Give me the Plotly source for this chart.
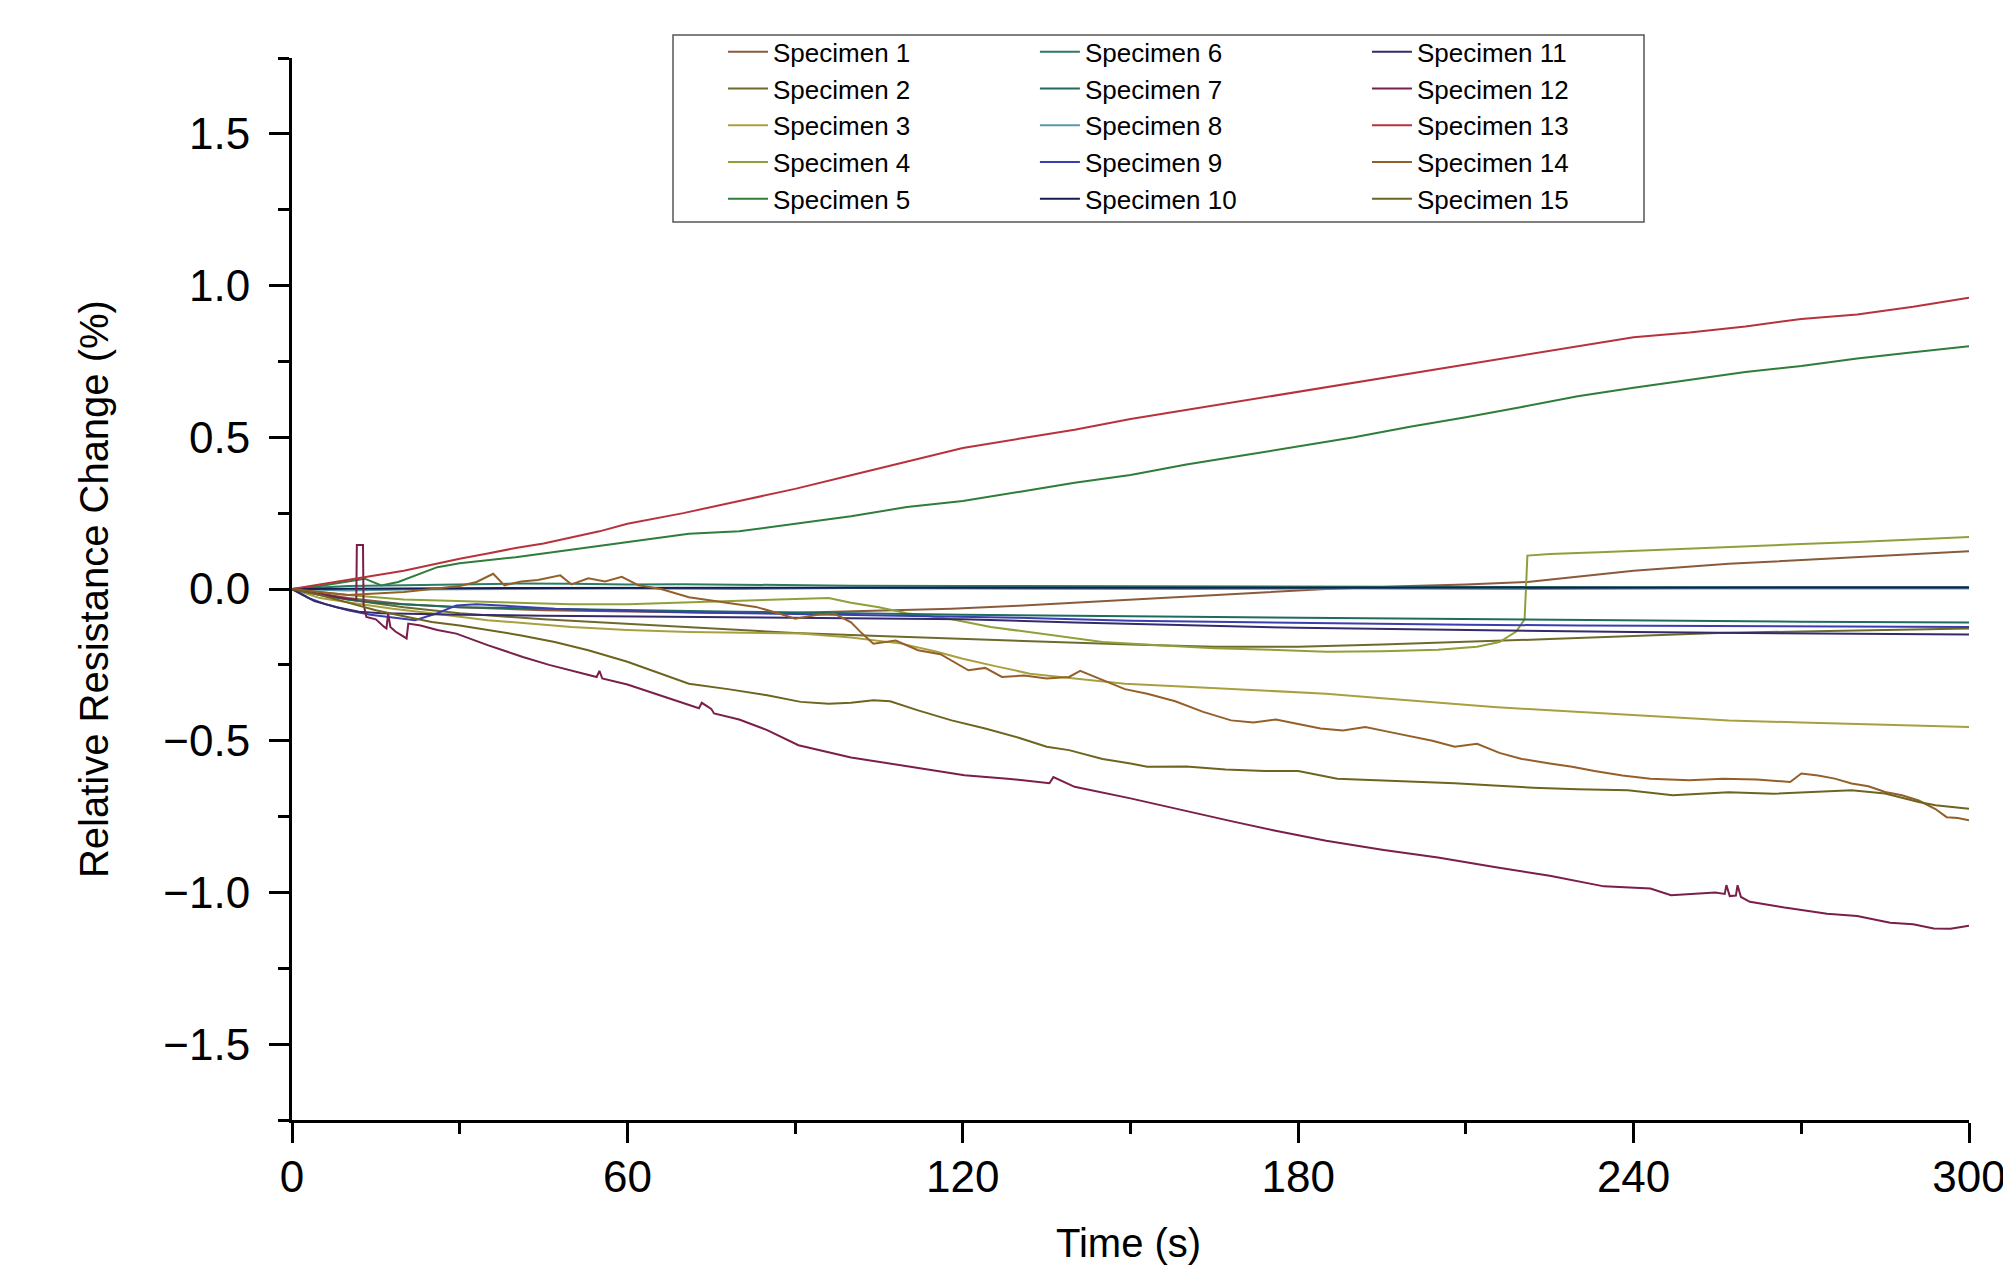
import plotly.graph_objects as go

# ---------------- data ----------------
names = [f"Specimen {i}" for i in range(1, 16)]

t1 = [0, 10, 20, 30, 45, 60, 75, 90, 105, 118, 130, 140, 150, 160, 174, 185, 200, 210, 221, 230, 240, 257, 270, 280, 290, 300]
v1 = [0, -0.03, -0.05, -0.06, -0.07, -0.075, -0.078, -0.078, -0.072, -0.065, -0.055, -0.045, -0.035, -0.025, -0.01, 0.0, 0.01, 0.015, 0.023, 0.04, 0.06, 0.083, 0.095, 0.105, 0.115, 0.124]

t2 = [0, 10, 20, 30, 45, 60, 75, 90, 105, 120, 135, 150, 165, 180, 195, 210, 225, 240, 255, 270, 285, 300]
v2 = [0, -0.035, -0.06, -0.08, -0.1, -0.115, -0.13, -0.145, -0.155, -0.165, -0.175, -0.183, -0.19, -0.19, -0.183, -0.175, -0.165, -0.155, -0.145, -0.14, -0.135, -0.13]

t3 = [0, 5, 11.5, 18, 25, 35, 50, 60, 71, 80, 91, 100, 109, 115, 120, 126, 132, 140, 149, 160, 174, 185, 195, 205, 215, 225, 235, 245, 257, 270, 280, 290, 300]
v3 = [0, -0.03, -0.048, -0.065, -0.08, -0.103, -0.125, -0.135, -0.142, -0.145, -0.147, -0.16, -0.18, -0.205, -0.23, -0.255, -0.279, -0.295, -0.312, -0.322, -0.334, -0.345, -0.36, -0.375, -0.389, -0.4, -0.41, -0.42, -0.433, -0.44, -0.445, -0.452, -0.455]

t4 = [0, 10, 20, 30, 40, 50, 60, 70, 80, 90, 96, 100, 105, 110, 118, 125, 135, 145, 155, 165, 175, 185, 195, 205, 212, 216, 219, 220.5, 221, 225, 235, 245, 257, 270, 280, 290, 300]
v4 = [0, -0.02, -0.035, -0.04, -0.045, -0.05, -0.05, -0.045, -0.04, -0.035, -0.03, -0.045, -0.06, -0.08, -0.10, -0.125, -0.15, -0.175, -0.185, -0.195, -0.2, -0.207, -0.205, -0.2, -0.19, -0.175, -0.14, -0.10, 0.11, 0.115, 0.122, 0.13, 0.138, 0.148, 0.155, 0.163, 0.171]

t5 = [0, 5, 10, 13, 16, 19, 26, 30, 40, 47, 60, 71, 80, 90, 100, 110, 120, 130, 140, 150, 160, 170, 180, 190, 200, 210, 220, 230, 240, 250, 260, 270, 280, 290, 300]
v5 = [0, 0.01, 0.025, 0.034, 0.012, 0.023, 0.072, 0.085, 0.105, 0.122, 0.155, 0.182, 0.19, 0.215, 0.24, 0.27, 0.29, 0.32, 0.35, 0.376, 0.41, 0.44, 0.47, 0.5, 0.535, 0.566, 0.6, 0.635, 0.663, 0.69, 0.715, 0.735, 0.76, 0.78, 0.80]

t6 = [0, 5, 10, 20, 30, 40, 50, 60, 70, 80, 90, 100, 120, 140, 160, 180, 200, 220, 240, 260, 280, 300]
v6 = [0, 0.005, 0.01, 0.012, 0.015, 0.018, 0.017, 0.015, 0.016, 0.014, 0.012, 0.011, 0.01, 0.009, 0.008, 0.008, 0.007, 0.007, 0.006, 0.006, 0.006, 0.006]

t7 = [0, 5, 10, 15, 20, 30, 45, 60, 80, 100, 120, 150, 180, 210, 240, 270, 300]
v7 = [0, -0.02, -0.035, -0.045, -0.05, -0.06, -0.065, -0.07, -0.075, -0.08, -0.085, -0.09, -0.095, -0.1, -0.105, -0.108, -0.11]

t8 = [0, 10, 20, 40, 60, 80, 100, 130, 160, 190, 220, 250, 280, 300]
v8 = [0, -0.005, -0.002, 0.0, 0.002, 0.0, 0.003, 0.001, 0.0, 0.002, 0.0, 0.002, 0.001, 0.002]

t9 = [0, 3, 6, 10, 14, 18, 22, 26, 29.4, 33, 40, 47, 55, 65, 75, 90, 110, 130, 150, 170, 190, 210, 230, 250, 270, 290, 300]
v9 = [0, -0.03, -0.05, -0.07, -0.085, -0.095, -0.103, -0.08, -0.054, -0.05, -0.058, -0.065, -0.07, -0.075, -0.078, -0.082, -0.088, -0.095, -0.105, -0.11, -0.115, -0.118, -0.12, -0.122, -0.124, -0.125, -0.125]

t10 = [0, 10, 20, 40, 60, 80, 100, 130, 160, 190, 220, 250, 280, 300]
v10 = [0, 0.0, 0.002, 0.003, 0.004, 0.004, 0.004, 0.004, 0.004, 0.005, 0.005, 0.005, 0.005, 0.005]

t11 = [0, 4, 8, 12, 16, 20, 30, 45, 60, 80, 100, 120, 140, 160, 180, 200, 220, 240, 260, 280, 300]
v11 = [0, -0.04, -0.06, -0.075, -0.08, -0.082, -0.085, -0.088, -0.09, -0.093, -0.097, -0.1, -0.11, -0.12, -0.128, -0.133, -0.138, -0.142, -0.145, -0.148, -0.15]

t12 = [0, 3, 6, 9, 11.5, 11.6, 12.7, 12.8, 13.3, 15, 16.5, 16.9, 17.2, 17.6, 18.5, 20.5, 20.8, 21.2, 23, 26,
       29.4, 35, 41.3, 46, 50, 54.5, 55, 55.5, 60, 65, 70, 72.8, 73.3, 75, 75.5, 80, 85, 90.6, 100, 110,
       120.3, 128, 135.5, 136.2, 140, 150, 161.7, 168, 175.5, 185, 195.3, 205, 215.1, 225, 234.7, 243, 246.7, 254.6, 256.3, 256.6,
       257.2, 258.3, 258.6, 259.2, 260.8, 267, 274.6, 280, 285.9, 290, 293.7, 296.7, 300]
v12 = [0, -0.01, -0.02, -0.03, -0.035, 0.145, 0.145, -0.05, -0.092, -0.1, -0.125, -0.13, -0.081, -0.125, -0.14, -0.163, -0.114, -0.115, -0.12, -0.135,
       -0.147, -0.185, -0.224, -0.25, -0.27, -0.29, -0.27, -0.295, -0.315, -0.345, -0.375, -0.393, -0.375, -0.395, -0.41, -0.43, -0.465, -0.515, -0.555, -0.585,
       -0.614, -0.625, -0.64, -0.62, -0.652, -0.69, -0.74, -0.765, -0.795, -0.83, -0.86, -0.885, -0.916, -0.945, -0.98, -0.987, -1.009, -1.0, -1.005, -0.976,
       -1.012, -1.01, -0.976, -1.015, -1.031, -1.05, -1.07, -1.078, -1.10, -1.105, -1.119, -1.12, -1.11]

t13 = [0, 5, 10, 15, 20, 25, 30, 35, 40, 45, 50, 55, 60, 70, 80, 90, 100, 110, 120, 130, 140, 150, 160, 170, 180, 190, 200, 210, 220, 230, 240, 250, 260, 270, 280, 290, 300]
v13 = [0, 0.015, 0.03, 0.045, 0.06, 0.08, 0.1, 0.117, 0.135, 0.15, 0.17, 0.19, 0.215, 0.25, 0.29, 0.33, 0.375, 0.42, 0.465, 0.495, 0.525, 0.56, 0.59, 0.62, 0.65, 0.68, 0.71, 0.74, 0.77, 0.8, 0.83, 0.845, 0.865, 0.89, 0.905, 0.93, 0.96]

t14 = [0, 5, 10, 15, 20, 25, 30, 33, 36, 38, 41, 44, 48, 50, 53, 56, 59, 62, 66, 71,
       76, 80, 83, 87, 90, 94, 97, 100, 102, 104, 108, 112, 116, 121, 124, 127, 131, 135, 139, 141,
       145, 149, 153, 158, 163, 168, 172, 176, 180, 184, 188, 192, 196, 200, 204, 208, 212, 216, 220, 225,
       229, 233, 238, 243, 250, 256, 262, 268, 270, 273, 276, 279, 282, 285, 288, 291, 294, 296, 298, 300]
v14 = [0, -0.01, -0.02, -0.015, -0.01, 0.0, 0.01, 0.023, 0.05, 0.012, 0.025, 0.03, 0.045, 0.015, 0.035, 0.025, 0.04, 0.012, 0.0, -0.027,
       -0.04, -0.05, -0.059, -0.08, -0.098, -0.085, -0.081, -0.11, -0.147, -0.18, -0.17, -0.202, -0.215, -0.268, -0.26, -0.29, -0.285, -0.295, -0.29, -0.27,
       -0.3, -0.33, -0.345, -0.37, -0.405, -0.433, -0.44, -0.43, -0.445, -0.46, -0.466, -0.455, -0.47, -0.485, -0.5, -0.52, -0.51, -0.54, -0.56, -0.575,
       -0.586, -0.6, -0.615, -0.625, -0.63, -0.625, -0.628, -0.636, -0.608, -0.615, -0.625, -0.641, -0.65, -0.669, -0.68, -0.697, -0.725, -0.752, -0.755, -0.762]

t15 = [0, 5, 10, 15, 20, 25, 30, 35, 41, 47, 53, 60, 66, 71, 78, 85, 91, 96, 100, 104,
       107, 112, 118, 124, 130, 135, 139, 145, 150, 153, 160, 167, 174, 180, 187, 194, 200, 208, 215, 222,
       230, 239, 247, 257, 265, 272, 279, 285, 291, 294, 297, 300]
v15 = [0, -0.02, -0.045, -0.07, -0.09, -0.109, -0.12, -0.135, -0.153, -0.175, -0.202, -0.24, -0.28, -0.312, -0.33, -0.35, -0.372, -0.378, -0.375, -0.367,
       -0.37, -0.4, -0.433, -0.46, -0.49, -0.52, -0.531, -0.56, -0.575, -0.586, -0.585, -0.595, -0.6, -0.6, -0.625, -0.63, -0.636, -0.64, -0.648, -0.655,
       -0.66, -0.663, -0.68, -0.67, -0.675, -0.668, -0.663, -0.674, -0.702, -0.713, -0.718, -0.724]

times = [t1, t2, t3, t4, t5, t6, t7, t8, t9, t10, t11, t12, t13, t14, t15]
values = [v1, v2, v3, v4, v5, v6, v7, v8, v9, v10, v11, v12, v13, v14, v15]

colors = ["#8B5A3C", "#6E6A2E", "#A8A040", "#8FA03A", "#2E7D3A",
          "#2A7A66", "#1F6B5C", "#5C98A8", "#3A3FB0", "#141E50",
          "#352A6A", "#7A1E4A", "#B8323C", "#94602A", "#6E6420"]

x_ticks = [0, 60, 120, 180, 240, 300]
y_ticks = [-1.5, -1.0, -0.5, 0.0, 0.5, 1.0, 1.5]

FONT = "Liberation Sans, Arial, sans-serif"

# ---------------- figure ----------------
fig = go.Figure()
legend_ids = ["legend", "legend2", "legend3"]
for i in range(15):
    assert len(times[i]) == len(values[i]), names[i]
    fig.add_trace(go.Scatter(
        x=times[i], y=values[i], mode="lines", name=names[i],
        line=dict(color=colors[i], width=2),
        legend=legend_ids[i // 5],
    ))

axis_common = dict(
    showline=True, linecolor="black", linewidth=3,
    ticks="outside", ticklen=20, tickwidth=3, tickcolor="black",
    showgrid=False, zeroline=False, mirror=False,
    tickfont=dict(family=FONT, size=44, color="black"),
    ticklabeloverflow="allow", automargin=False,
)

fig.update_xaxes(range=[0, 300], tickvals=x_ticks, ticklabelstandoff=-4,
                 minor=dict(dtick=30, tick0=0, ticks="outside", ticklen=11, tickwidth=3, tickcolor="black"),
                 **axis_common)
fig.update_yaxes(range=[-1.75, 1.75], tickvals=y_ticks, tickformat=".1f", ticklabelstandoff=10,
                 minor=dict(dtick=0.25, tick0=0, ticks="outside", ticklen=11, tickwidth=3, tickcolor="black"),
                 **axis_common)

leg_common = dict(
    orientation="v", yanchor="top", xanchor="left", y=1.028,
    bgcolor="rgba(0,0,0,0)", borderwidth=0,
    font=dict(family=FONT, size=26, color="black"),
    itemwidth=40, tracegroupgap=0,
)

# page body has an 8px margin, so the figure is sized to fit the 2011x1274 window
fig.update_layout(
    width=1995, height=1258,
    margin=dict(l=284, r=34, t=50, b=146, autoexpand=False),
    paper_bgcolor="white", plot_bgcolor="white",
    showlegend=True,
    legend=dict(x=0.257, **leg_common),
    legend2=dict(x=0.443, **leg_common),
    legend3=dict(x=0.641, **leg_common),
    shapes=[dict(type="rect", xref="paper", yref="paper",
                 x0=0.2272, x1=0.8062, y0=0.8456, y1=1.0217,
                 line=dict(color="#555555", width=1.5), fillcolor="white", layer="above")],
    annotations=[
        dict(text="Relative Resistance Change (%)", xref="paper", yref="paper",
             x=-0.118, y=0.5, textangle=-90, showarrow=False,
             xanchor="center", yanchor="middle",
             font=dict(family=FONT, size=40, color="black")),
        dict(text="Time (s)", xref="paper", yref="paper",
             x=0.499, y=-0.1158, showarrow=False,
             xanchor="center", yanchor="middle",
             font=dict(family=FONT, size=40, color="black")),
    ],
)

fig.write_html("out.html")
